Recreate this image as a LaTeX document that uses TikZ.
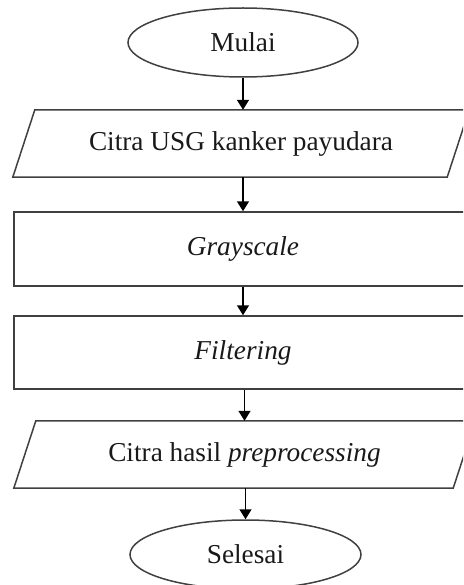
\documentclass[tikz,border=0pt]{standalone}
\usepackage{fontspec}
\setmainfont{Liberation Serif}
\usetikzlibrary{arrows.meta,shapes.geometric,calc}
\begin{document}
\begin{tikzpicture}[x=1pt,y=-1pt,
  every node/.style={font=\fontsize{27.3}{31}\selectfont, inner sep=0pt, text=black!90},
  outl/.style={line width=1.5pt, draw=black!75},
  term/.style={ellipse, outl, minimum width=230pt, minimum height=69pt},
  proc/.style={rectangle, outl, minimum width=458pt},
  io/.style={rectangle, minimum height=67pt},
  arr/.style={line width=1.5pt, draw=black, -{Triangle[width=12pt,length=10pt]}}]
\clip (0,0) rectangle (463,585);
\node[term] (start) at (243,42.5) {Mulai};
\node[io, minimum width=456pt] (p1) at (241,143.5) {Citra USG kanker payudara};
\draw[outl] (p1.south west) -- ($(p1.north west)+(22,0)$) -- (p1.north east) -- ($(p1.south east)+(-22,0)$) -- cycle;
\node[proc, minimum height=74pt] (g) at (243,249) {\itshape Grayscale};
\node[proc, minimum height=73pt] (f) at (243,352.5) {\itshape Filtering};
\node[io, minimum width=461pt] (p2) at (244.5,454.5) {Citra hasil \textit{preprocessing}};
\draw[outl] (p2.south west) -- ($(p2.north west)+(22,0)$) -- (p2.north east) -- ($(p2.south east)+(-22,0)$) -- cycle;
\node[term, minimum width=231pt] (stop) at (245.5,554.5) {Selesai};
\draw[arr] (start.south) -- (start.south |- p1.north);
\draw[arr] (g.north |- p1.south) -- (g.north);
\draw[arr] (g.south) -- (f.north);
\draw[arr] (p2.north |- f.south) -- (p2.north);
\draw[arr] (p2.south -| stop.north) -- (stop.north);
\end{tikzpicture}
\end{document}
